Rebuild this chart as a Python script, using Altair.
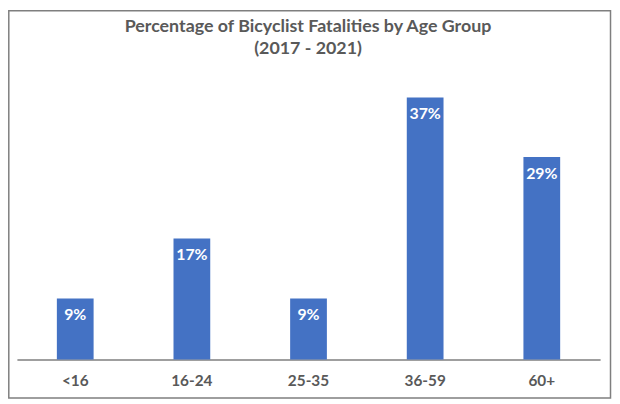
import altair as alt
import pandas as pd

age_groups = ["<16", "16-24", "25-35", "36-59", "60+"]
percentages = [8.6, 17.1, 8.6, 37.0, 28.6]
title_lines = ["Percentage of Bicyclist Fatalities by Age Group", "(2017 - 2021)"]

df = pd.DataFrame({"age": age_groups, "pct": percentages})

W, H = 589, 286
PAD_L, PAD_T = 9, 67
GRAY = "#595959"
FONT = "Lato"

base = alt.Chart(df).encode(
    x=alt.X("age:N", sort=age_groups,
            scale=alt.Scale(paddingInner=0.685, paddingOuter=0.3425),
            axis=alt.Axis(title=None, labelAngle=0, ticks=False, tickSize=0,
                          labelPadding=14, labelFont=FONT, labelFontSize=15.5,
                          labelFontWeight="bold", labelColor=GRAY,
                          domainColor="#7f7f7f", domainWidth=1.5, grid=False)),
)

bars = base.mark_bar(color="#4472C4").encode(
    y=alt.Y("pct:Q", scale=alt.Scale(domain=[0, 40]), axis=None)
)

labels = base.transform_calculate(lbl="format(datum.pct, '.0f') + '%'").mark_text(
    color="white", font=FONT, fontSize=16, fontWeight="bold", baseline="middle", dy=17
).encode(y=alt.Y("pct:Q"), text="lbl:N")

t1 = alt.Chart(pd.DataFrame({"t": [title_lines[0]]})).mark_text(
    font=FONT, fontSize=18, fontWeight="bold", color=GRAY, baseline="middle", align="center"
).encode(text="t:N", x=alt.value(303 - PAD_L), y=alt.value(17 - PAD_T))

t2 = alt.Chart(pd.DataFrame({"t": [title_lines[1]]})).mark_text(
    font=FONT, fontSize=18, fontWeight="bold", color=GRAY, baseline="middle", align="center"
).encode(text="t:N", x=alt.value(303 - PAD_L), y=alt.value(39 - PAD_T))

border = alt.Chart(pd.DataFrame({"a": [0]})).mark_rect(
    fillOpacity=0, stroke="#7f7f7f", strokeWidth=1.5
).encode(x=alt.value(0.8 - PAD_L), x2=alt.value(608.5 - PAD_L),
         y=alt.value(0.8 - PAD_T), y2=alt.value(392 - PAD_T))

chart = alt.layer(border, bars, labels, t1, t2).properties(
    width=W, height=H,
    autosize=alt.AutoSizeParams(type="none"),
    padding={"left": PAD_L, "top": PAD_T, "right": 610 - PAD_L - W, "bottom": 40},
    background="white",
).configure_view(strokeWidth=0, stroke=None)

chart.save("out.html", embed_options={"renderer": "svg", "actions": False})
